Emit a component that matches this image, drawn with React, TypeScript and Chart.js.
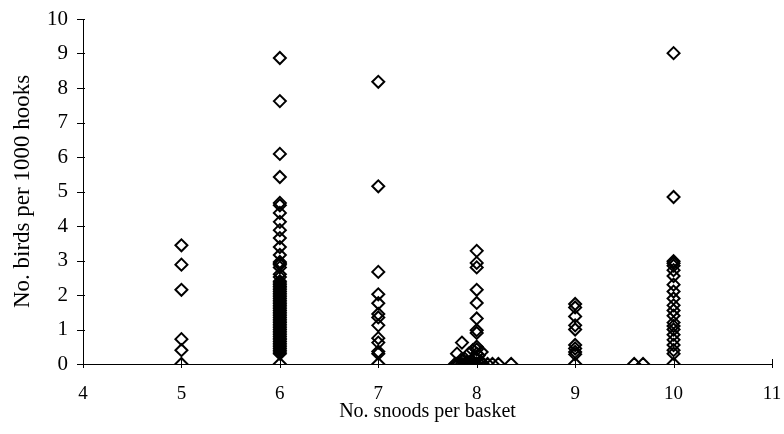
import React, { useEffect, useRef } from "react";
import { Chart, registerables } from "chart.js";

Chart.register(...registerables);

// Bird catch rate (birds per 1000 hooks) by number of snoods per basket
const snoods5 = [3.44, 2.88, 2.15, 0.72, 0.4, 0];
const snoods6 = [
  8.87, 7.62, 6.09, 5.42, 4.67, 4.6, 4.38, 4.12, 3.88, 3.65, 3.39, 3.16, 2.96,
  2.92, 2.88, 2.8, 2.6, 2.52, 2.4, 2.35, 2.3, 2.25, 2.2, 2.15, 2.1, 2.05, 2.0,
  1.95, 1.9, 1.85, 1.8, 1.75, 1.7, 1.65, 1.6, 1.55, 1.5, 1.45, 1.4, 1.35, 1.3,
  1.25, 1.2, 1.15, 1.1, 1.05, 1.0, 0.95, 0.9, 0.85, 0.8, 0.75, 0.7, 0.65, 0.6,
  0.55, 0.5, 0.45, 0.4, 0.35, 0.3, 0,
];
const snoods7 = [8.18, 5.15, 2.67, 2.02, 1.76, 1.45, 1.35, 1.12, 0.75, 0.62, 0.36, 0.3, 0];
const snoods8Column = [3.28, 2.93, 2.8, 2.15, 1.77, 1.32, 0.98, 0.9, 0.5, 0.42, 0.3, 0];
const snoods8SpreadX = [
  7.78, 7.8, 7.82, 7.85, 7.88, 7.9, 7.93, 7.96, 7.98, 8.03, 8.06, 8.11, 8.16,
  8.22, 8.35, 7.8, 7.85, 7.88, 7.92, 7.95, 7.98, 8.02, 8.05, 7.9, 7.84, 7.96,
  8.04,
];
const snoods8SpreadY = [
  0, 0, 0, 0, 0, 0, 0, 0, 0, 0, 0, 0, 0, 0, 0,
  0.3, 0.62, 0.15, 0.3, 0.1, 0.2, 0.25, 0.35, 0.05, 0.12, 0.4, 0.08,
];
const snoods9 = [1.74, 1.64, 1.38, 1.12, 1.0, 0.55, 0.45, 0.35, 0.28, 0];
const snoods9SpreadX = [9.6, 9.69];
const snoods9SpreadY = [0, 0];
const snoods10 = [
  9.01, 4.84, 2.98, 2.92, 2.85, 2.72, 2.55, 2.3, 2.1, 1.9, 1.7, 1.55, 1.4, 1.2,
  1.1, 1.0, 0.85, 0.7, 0.55, 0.4, 0.3, 0,
];

const xTicks = [4, 5, 6, 7, 8, 9, 10, 11];
const yTicks = [0, 1, 2, 3, 4, 5, 6, 7, 8, 9, 10];

const column = (x: number, ys: number[]) => ys.map((y) => ({ x, y }));
const pairs = (xs: number[], ys: number[]) => xs.map((x, i) => ({ x, y: ys[i] }));

const points = [
  ...column(5, snoods5),
  ...column(6, snoods6),
  ...column(7, snoods7),
  ...column(8, snoods8Column),
  ...pairs(snoods8SpreadX, snoods8SpreadY),
  ...column(9, snoods9),
  ...pairs(snoods9SpreadX, snoods9SpreadY),
  ...column(10, snoods10),
];

const SERIF = "'Liberation Serif', 'Times New Roman', serif";

// Tick marks that cross the axis lines
const crossTicks = {
  id: "crossTicks",
  beforeDatasetsDraw(chart: any) {
    const { ctx, scales } = chart;
    const xs = scales.x;
    const ys = scales.y;
    ctx.save();
    ctx.strokeStyle = "#000";
    ctx.lineWidth = 1;
    ctx.beginPath();
    xTicks.forEach((v) => {
      const px = Math.round(xs.getPixelForValue(v)) + 0.5;
      ctx.moveTo(px, ys.bottom - 5);
      ctx.lineTo(px, ys.bottom + 4);
    });
    yTicks.forEach((v) => {
      const py = Math.round(ys.getPixelForValue(v)) + 0.5;
      ctx.moveTo(xs.left - 6, py);
      ctx.lineTo(xs.left + 2, py);
    });
    ctx.stroke();
    ctx.restore();
  },
};

export default function App() {
  const ref = useRef<HTMLCanvasElement>(null);

  useEffect(() => {
    if (!ref.current) return;
    const chart = new Chart(ref.current, {
      type: "scatter",
      data: {
        datasets: [
          {
            data: points,
            pointStyle: "rectRot",
            pointRadius: 6,
            pointHoverRadius: 6,
            pointBorderWidth: 2,
            pointBorderColor: "#000",
            pointBackgroundColor: "rgba(0,0,0,0)",
          },
        ],
      },
      options: {
        responsive: false,
        animation: false,
        events: [],
        layout: { padding: { top: 19, right: 12, left: 0, bottom: 0 } },
        plugins: { legend: { display: false }, tooltip: { enabled: false } },
        scales: {
          x: {
            type: "linear",
            min: 4,
            max: 11,
            afterFit: (s: any) => {
              s.height = 70;
              s.paddingLeft = 0;
              s.paddingRight = 0;
            },
            afterBuildTicks: (s: any) => {
              s.ticks = xTicks.map((v) => ({ value: v }));
            },
            grid: { display: false },
            border: { display: true, color: "#000", width: 1 },
            ticks: {
              color: "#000",
              padding: 11,
              maxRotation: 0,
              font: { family: SERIF, size: 19 },
            },
            title: {
              display: true,
              text: "No. snoods per basket",
              color: "#000",
              font: { family: SERIF, size: 20 },
              padding: { top: 0, bottom: 10 },
            },
          },
          y: {
            type: "linear",
            min: 0,
            max: 10,
            afterFit: (s: any) => {
              s.width = 83;
              s.paddingTop = 0;
              s.paddingBottom = 0;
            },
            afterBuildTicks: (s: any) => {
              s.ticks = yTicks.map((v) => ({ value: v }));
            },
            grid: { display: false },
            border: { display: true, color: "#000", width: 1 },
            ticks: {
              color: "#000",
              padding: 7,
              font: { family: SERIF, size: 21 },
            },
            title: {
              display: true,
              text: "No. birds per 1000 hooks",
              color: "#000",
              font: { family: SERIF, size: 23 },
              padding: { top: 9, bottom: 0 },
            },
          },
        },
      },
      plugins: [crossTicks],
    });
    return () => chart.destroy();
  }, []);

  return (
    <div style={{ position: "fixed", left: 0, top: 0, width: 784, height: 434, background: "#fff" }}>
      <canvas ref={ref} width={784} height={434} />
    </div>
  );
}
